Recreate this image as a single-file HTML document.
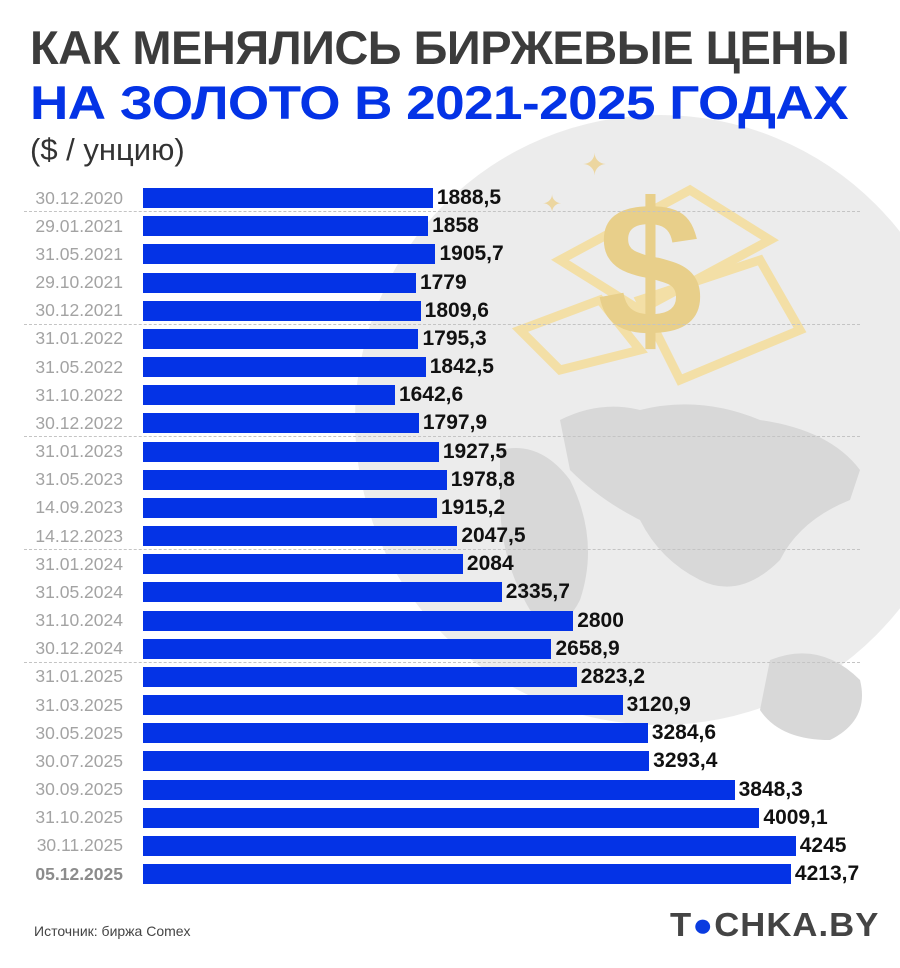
<!DOCTYPE html>
<html><head><meta charset="utf-8"><style>
body{margin:0;width:900px;height:968px;background:#fff;position:relative;overflow:hidden;font-family:"Liberation Sans",sans-serif}
.t{position:absolute;left:30px;font-weight:bold;font-size:47px;letter-spacing:-0.5px;line-height:1;transform-origin:left;white-space:nowrap}
.lab{position:absolute;left:0;width:123px;text-align:right;font-size:17.5px;color:#a3a3a3}
.bar{position:absolute;left:143px;height:20px;background:#0433e6}
.val{position:absolute;font-size:21px;font-weight:bold;color:#111;top:0}
.dash{position:absolute;left:24px;width:836px;border-top:1px dashed #c4c4c4}
</style></head><body>
<svg style="position:absolute;left:0;top:0" width="900" height="968">
<circle cx="660" cy="420" r="305" fill="#ececec"/>
<g fill="#d8d8d8">
<path d="M560 420 Q600 400 640 410 Q700 395 760 420 Q830 430 860 470 L850 500 Q800 520 780 560 Q740 600 700 580 Q660 560 640 520 Q600 500 570 470Z"/>
<path d="M500 450 Q540 440 570 480 Q600 540 580 600 Q560 640 530 610 Q500 560 500 500Z"/>
<path d="M770 660 Q820 640 860 680 Q870 720 830 740 Q780 740 760 710Z"/>
</g>
<g fill="none" stroke="#f3dfa6" stroke-width="9">
<path d="M560 260 L690 190 L770 240 L640 310Z"/>
<path d="M520 330 L600 300 L640 350 L560 370Z"/>
<path d="M640 300 L760 260 L800 330 L680 380Z"/>
</g>
<text x="650" y="335" font-size="190" font-weight="bold" fill="#e8cf8a" text-anchor="middle" font-family="Liberation Sans">$</text>
<text x="582" y="175" font-size="30" fill="#ecd6a0">✦</text>
<text x="542" y="212" font-size="24" fill="#ecd6a0">✦</text>
</svg>
<div class="t" style="top:24px;color:#3c3c3c">КАК МЕНЯЛИСЬ БИРЖЕВЫЕ ЦЕНЫ</div>
<div class="t" style="top:79px;color:#0433e6;transform:scaleX(1.13)">НА ЗОЛОТО В 2021-2025 ГОДАХ</div>
<div style="position:absolute;left:30px;top:132px;font-size:31px;color:#333">($ / унцию)</div>
<div id="c"></div>
<div style="position:absolute;left:34px;top:923px;font-size:14px;color:#444">Источник: биржа Comex</div>
<div style="position:absolute;left:670px;top:906px;font-size:33px;font-weight:bold;color:#444;letter-spacing:1px;transform:scaleX(1.05);transform-origin:left">T<span style="color:#0a3ce0">●</span>CHKA.BY</div>
<script>
var d=[["30.12.2020",1888.5,"1888,5"],["29.01.2021",1858,"1858"],["31.05.2021",1905.7,"1905,7"],["29.10.2021",1779,"1779"],["30.12.2021",1809.6,"1809,6"],["31.01.2022",1795.3,"1795,3"],["31.05.2022",1842.5,"1842,5"],["31.10.2022",1642.6,"1642,6"],["30.12.2022",1797.9,"1797,9"],["31.01.2023",1927.5,"1927,5"],["31.05.2023",1978.8,"1978,8"],["14.09.2023",1915.2,"1915,2"],["14.12.2023",2047.5,"2047,5"],["31.01.2024",2084,"2084"],["31.05.2024",2335.7,"2335,7"],["31.10.2024",2800,"2800"],["30.12.2024",2658.9,"2658,9"],["31.01.2025",2823.2,"2823,2"],["31.03.2025",3120.9,"3120,9"],["30.05.2025",3284.6,"3284,6"],["30.07.2025",3293.4,"3293,4"],["30.09.2025",3848.3,"3848,3"],["31.10.2025",4009.1,"4009,1"],["30.11.2025",4245,"4245"],["05.12.2025",4213.7,"4213,7"]];
var h="";
d.forEach(function(r,i){var y=188+i*28.17;var w=r[1]*0.154-1;
h+='<div class="lab" style="top:'+(y-0.5)+'px;'+(i==24?'font-weight:bold;color:#8c8c8c':'')+'">'+r[0]+'</div>';
h+='<div class="bar" style="top:'+y+'px;width:'+w+'px"></div>';
h+='<div class="val" style="top:'+(y-2)+'px;left:'+(143+w+4)+'px">'+r[2]+'</div>';
if([0,4,8,12,16].indexOf(i)>=0)h+='<div class="dash" style="top:'+(y+23)+'px"></div>';});
document.getElementById("c").innerHTML=h;
</script>
</body></html>
